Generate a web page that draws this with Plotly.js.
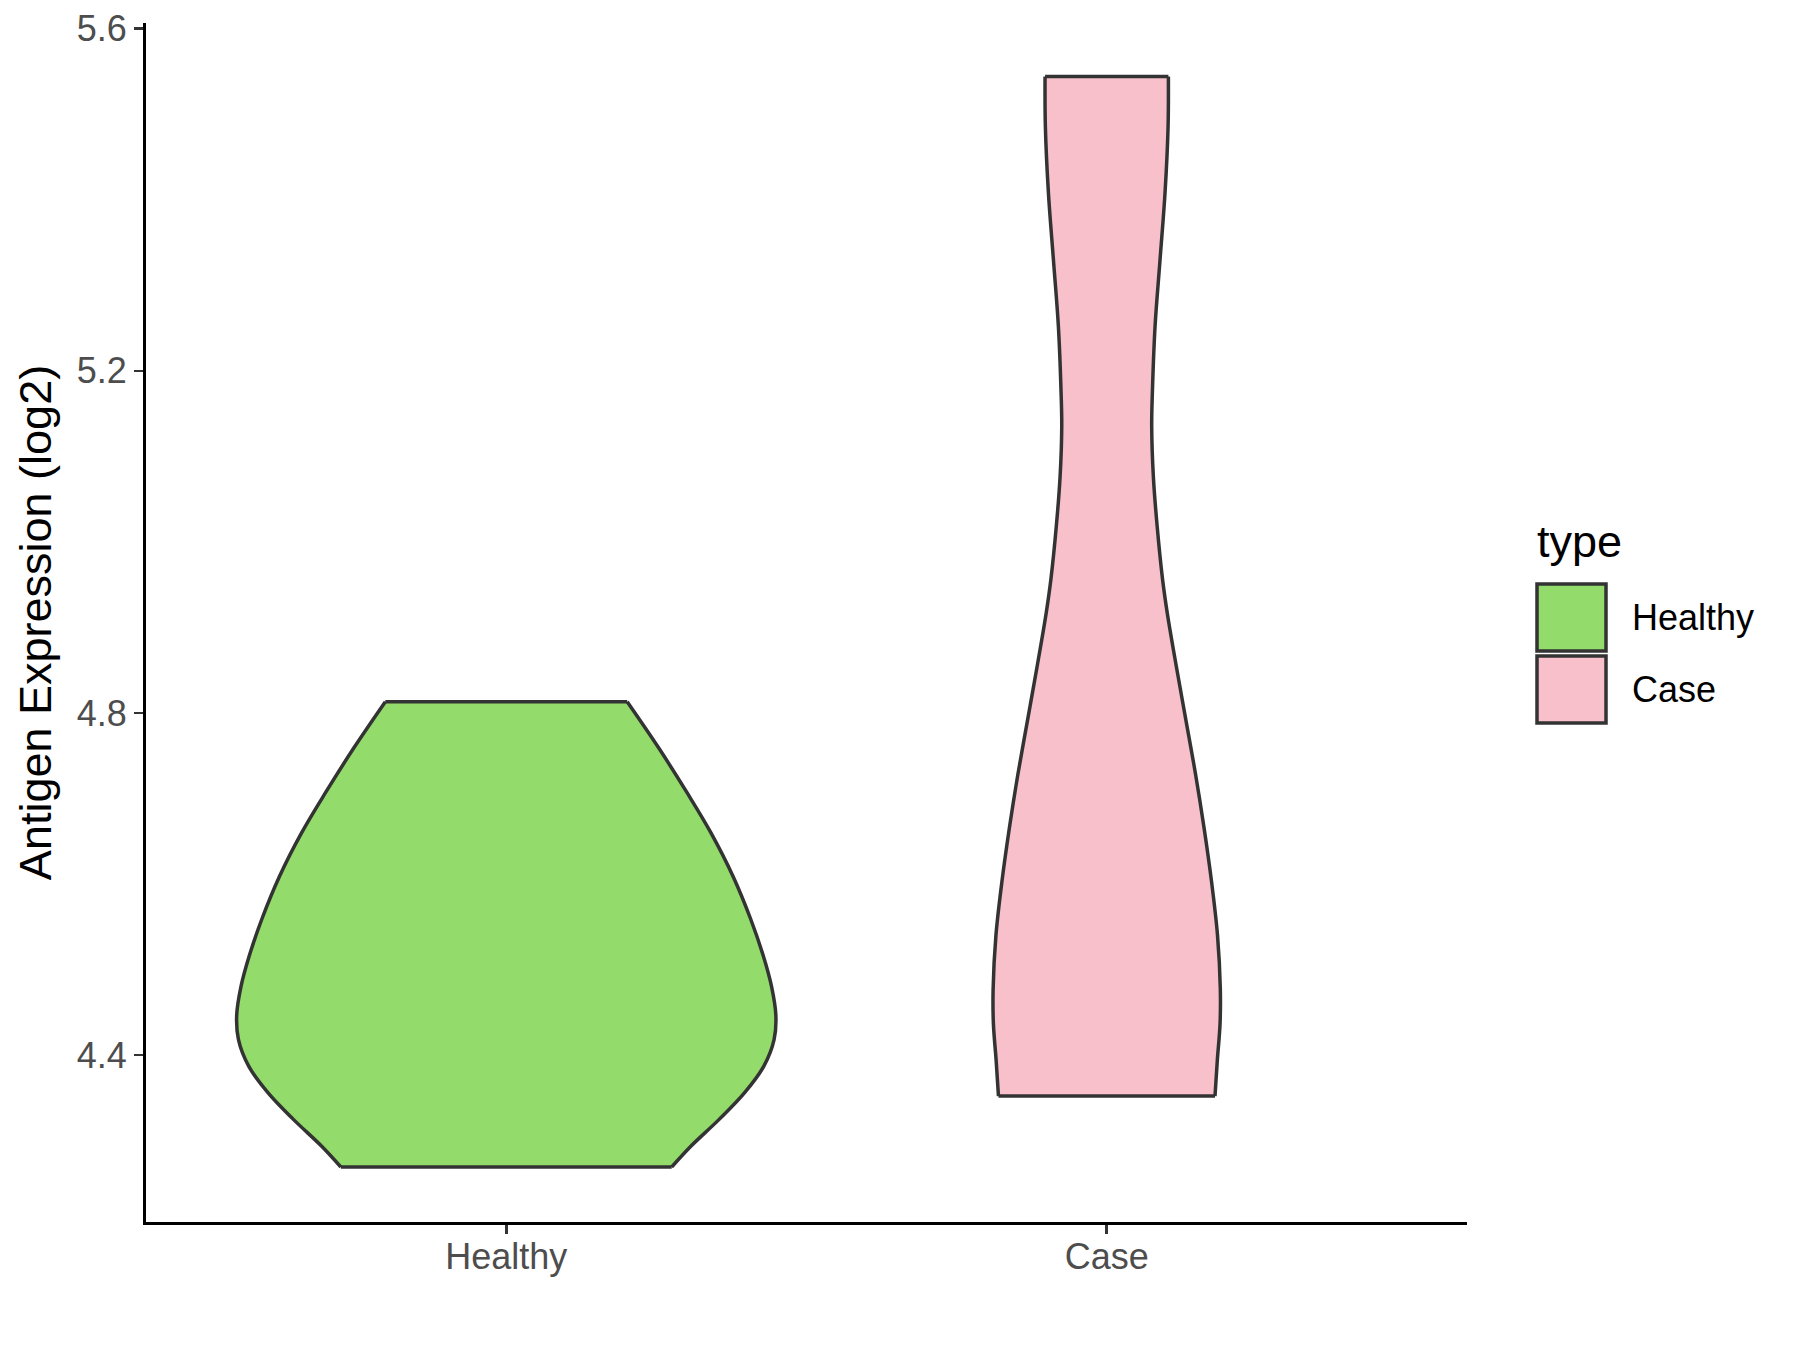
<!DOCTYPE html>
<html>
<head>
<meta charset="utf-8">
<script src="https://cdn.plot.ly/plotly-3.0.1.min.js"></script>
<style>html,body{margin:0;padding:0;background:#fff;}#chart{width:1800px;height:1350px;}</style>
</head>
<body>
<div id="chart"></div>
<script>
// ---- data ----
const categories = ['Healthy', 'Case'];
const categoryPositions = [1, 2];
const fillColors = ['#93DB6A', '#F7C0CB'];

// Healthy violin outline: expression value and half-width (x units)
const healthyY = [4.813, 4.758, 4.707, 4.660, 4.609, 4.559, 4.516, 4.481, 4.446, 4.418, 4.387, 4.356, 4.325, 4.293, 4.269];
const healthyHalfWidth = [0.2014, 0.2548, 0.3008, 0.3407, 0.3776, 0.4070, 0.4280, 0.4415, 0.4490, 0.4460, 0.4290, 0.3970, 0.3550, 0.3070, 0.2755];

// Case violin outline
const caseY = [5.544, 5.486, 5.408, 5.330, 5.252, 5.174, 5.135, 5.076, 5.018, 4.956, 4.916, 4.854, 4.791, 4.728, 4.666, 4.603, 4.540, 4.477, 4.436, 4.394, 4.352];
const caseHalfWidth = [0.1027, 0.1022, 0.0971, 0.0888, 0.0805, 0.0760, 0.0749, 0.0777, 0.0840, 0.0930, 0.1010, 0.1160, 0.1320, 0.1480, 0.1620, 0.1745, 0.1845, 0.1892, 0.1887, 0.1842, 0.1803];

const yTickValues = [4.4, 4.8, 5.2, 5.6];
const yTickLabels = ['4.4', '4.8', '5.2', '5.6'];
const legendTitle = 'type';
const yAxisTitle = 'Antigen Expression (log2)';

// ---- build traces ----
const OUTLINE = '#333333';
const LW = 3.5;

function violinTraces(name, pos, ys, hws, color) {
  const rightX = hws.map(h => pos + h);
  const leftX = hws.map(h => pos - h);
  const n = ys.length;
  const base = {type: 'scatter', mode: 'lines', hoverinfo: 'skip', showlegend: false, name: name};
  return [
    Object.assign({}, base, {
      x: rightX.concat(leftX.slice().reverse()),
      y: ys.concat(ys.slice().reverse()),
      fill: 'toself', fillcolor: color, line: {width: 0, color: color}
    }),
    Object.assign({}, base, {x: rightX, y: ys, line: {color: OUTLINE, width: LW, shape: 'spline', smoothing: 1}}),
    Object.assign({}, base, {x: leftX, y: ys, line: {color: OUTLINE, width: LW, shape: 'spline', smoothing: 1}}),
    Object.assign({}, base, {x: [leftX[0], rightX[0]], y: [ys[0], ys[0]], line: {color: OUTLINE, width: LW}}),
    Object.assign({}, base, {x: [leftX[n - 1], rightX[n - 1]], y: [ys[n - 1], ys[n - 1]], line: {color: OUTLINE, width: LW}})
  ];
}

const traces = [].concat(
  violinTraces(categories[0], categoryPositions[0], healthyY, healthyHalfWidth, fillColors[0]),
  violinTraces(categories[1], categoryPositions[1], caseY, caseHalfWidth, fillColors[1])
);

// ---- layout geometry (pixels) ----
const L = 146, R = 1467, T = 23, B = 1222;
const W = R - L, H = B - T;
const px = x => (x - L) / W;
const py = y => (B - y) / H;

const FONT = 'Liberation Sans, Arial, Helvetica, sans-serif';

const legendBoxes = [
  {x0: 1537, x1: 1606, y0: 584, y1: 651},
  {x0: 1537, x1: 1606, y0: 656, y1: 723}
];

const shapes = legendBoxes.map((b, i) => ({
  type: 'rect', xref: 'paper', yref: 'paper',
  x0: px(b.x0), x1: px(b.x1), y0: py(b.y1), y1: py(b.y0),
  fillcolor: fillColors[i], line: {color: OUTLINE, width: LW}
}));

const annotations = [
  {xref: 'paper', yref: 'paper', x: px(1535), y: py(541), xanchor: 'left', yanchor: 'middle',
   text: legendTitle, showarrow: false, font: {family: FONT, size: 45, color: '#000'}}
].concat(legendBoxes.map((b, i) => ({
  xref: 'paper', yref: 'paper', x: px(1630), y: py((b.y0 + b.y1) / 2), xanchor: 'left', yanchor: 'middle',
  text: categories[i], showarrow: false, font: {family: FONT, size: 36, color: '#000'}
})));

const layout = {
  width: 1800, height: 1350,
  margin: {l: L, r: 1800 - R, t: T, b: 1350 - B, pad: 0},
  paper_bgcolor: '#ffffff', plot_bgcolor: '#ffffff',
  showlegend: false,
  font: {family: FONT},
  xaxis: {
    range: [0.4, 2.6], tickmode: 'array', tickvals: categoryPositions, ticktext: categories,
    showgrid: false, zeroline: false, showline: true, linecolor: '#000', linewidth: 3,
    ticks: 'outside', ticklen: 9, tickwidth: 2.5, tickcolor: '#333333', ticklabelstandoff: -8,
    tickfont: {family: FONT, size: 36, color: '#4D4D4D'}, fixedrange: true
  },
  yaxis: {
    range: [4.2047, 5.6067], tickmode: 'array', tickvals: yTickValues, ticktext: yTickLabels,
    showgrid: false, zeroline: false, showline: true, linecolor: '#000', linewidth: 3,
    ticks: 'outside', ticklen: 9, tickwidth: 2.5, tickcolor: '#333333',
    tickfont: {family: FONT, size: 36, color: '#4D4D4D'}, fixedrange: true,
    title: {text: yAxisTitle, font: {family: FONT, size: 45, color: '#000'}, standoff: 12}
  },
  shapes: shapes,
  annotations: annotations
};

Plotly.newPlot('chart', traces, layout, {displayModeBar: false, staticPlot: true});
</script>
</body>
</html>
